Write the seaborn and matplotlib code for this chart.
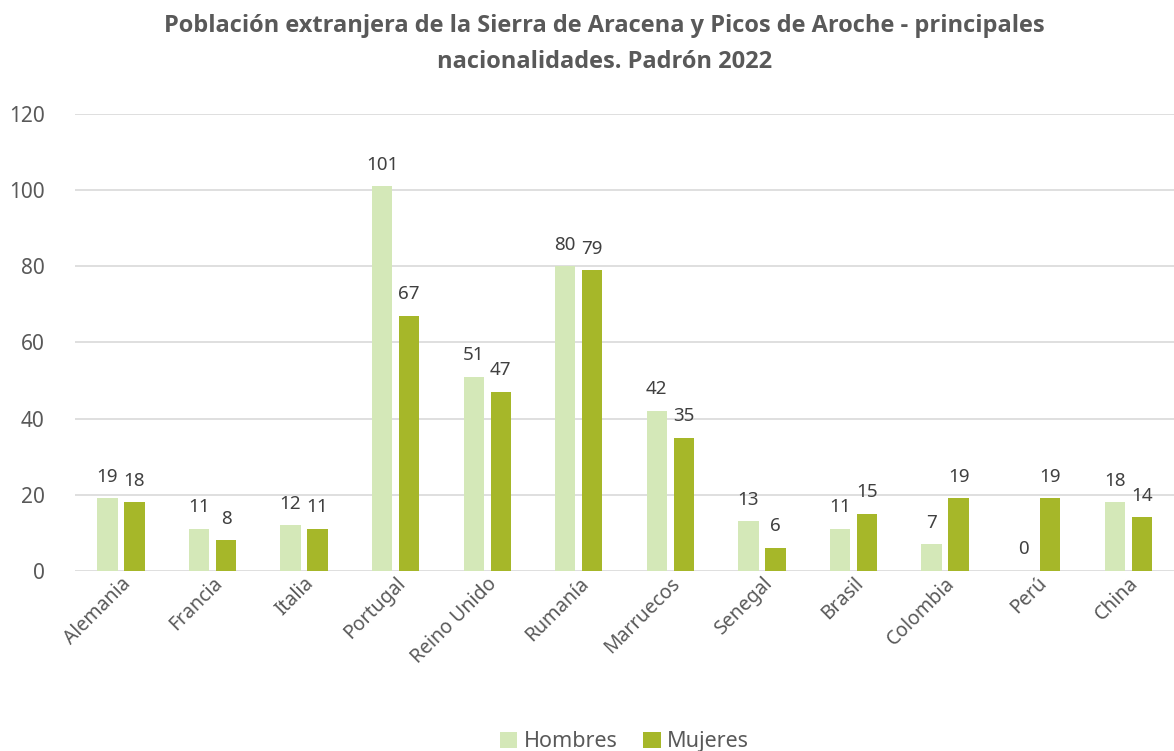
import numpy as np
import pandas as pd
import seaborn as sns
import matplotlib.pyplot as plt

paises = ['Alemania', 'Francia', 'Italia', 'Portugal', 'Reino Unido', 'Rumanía',
          'Marruecos', 'Senegal', 'Brasil', 'Colombia', 'Perú', 'China']
hombres = [19, 11, 12, 101, 51, 80, 42, 13, 11, 7, 0, 18]
mujeres = [18, 8, 11, 67, 47, 79, 35, 6, 15, 19, 19, 14]

df = pd.DataFrame({'pais': paises * 2,
                   'sexo': ['Hombres'] * len(paises) + ['Mujeres'] * len(paises),
                   'valor': hombres + mujeres})

sns.set_style('white')
plt.rcParams['font.family'] = ['Noto Sans', 'DejaVu Sans']
grey = '#595959'

fig = plt.figure(figsize=(11.74, 7.51), dpi=100)
ax = fig.add_axes([0.064, 0.240, 0.936, 0.608])

sns.barplot(data=df, x='pais', y='valor', hue='sexo',
            palette=['#d4e8b8', '#a6b729'], saturation=1, width=0.59, gap=0.25,
            linewidth=0, ax=ax, zorder=3)

for cont in ax.containers:
    ax.bar_label(cont, padding=9, fontsize=13.5, color='#404040')

ax.set_ylim(0, 120)
ax.set_yticks(range(0, 121, 20))
ax.set_xlim(-0.5, len(paises) - 0.5)
ax.grid(axis='y', color='#d9d9d9', lw=1.2, zorder=0)
for s in ax.spines.values():
    s.set_visible(False)
ax.set_xlabel('')
ax.set_ylabel('')
ax.tick_params(axis='y', labelsize=15, colors=grey, length=0, pad=22)
ax.tick_params(axis='x', labelsize=14, colors=grey, length=0, pad=2)
plt.setp(ax.get_xticklabels(), rotation=45, ha='right', rotation_mode='anchor')

ax.legend(loc='lower center', bbox_to_anchor=(0.5, -0.44), ncol=2, frameon=False,
          fontsize=15.5, handlelength=0.8, handleheight=0.8, handletextpad=0.3,
          columnspacing=1.2, labelcolor=grey)

fig.text(0.515, 0.965, 'Población extranjera de la Sierra de Aracena y Picos de Aroche - principales',
         ha='center', va='center', fontsize=17, fontweight='bold', color=grey,
         family=['Open Sans', 'DejaVu Sans'])
fig.text(0.515, 0.918, 'nacionalidades. Padrón 2022',
         ha='center', va='center', fontsize=17, fontweight='bold', color=grey,
         family=['Open Sans', 'DejaVu Sans'])

fig.savefig('out.png', dpi=100)
